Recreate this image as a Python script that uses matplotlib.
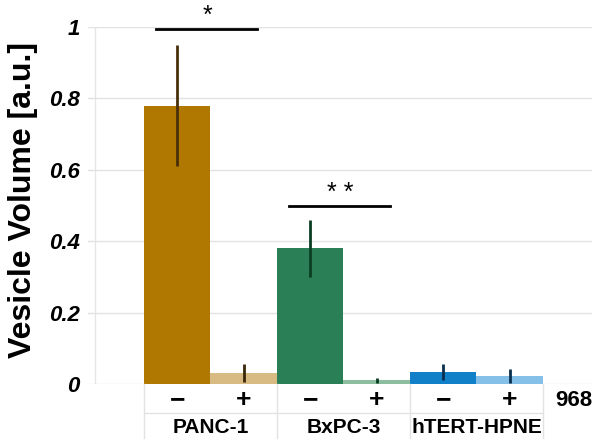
import matplotlib.pyplot as plt

# data
cell_lines = ["PANC-1", "BxPC-3", "hTERT-HPNE"]
treatment = ["\u2212", "+", "\u2212", "+", "\u2212", "+"]
volume = [0.78, 0.03, 0.38, 0.01, 0.033, 0.022]
volume_err = [0.17, 0.025, 0.08, 0.008, 0.022, 0.02]
bar_colors = ["#B07800", "#D8BB82", "#2A7F56", "#8DBEA0", "#1180C9", "#84C0E8"]
err_colors = ["#4A300A", "#3A2608", "#0B3D22", "#0B3D22", "#0A2F4F", "#0A2F4F"]
sig_pairs = [(0, 1, 0.995, "*"), (2, 3, 0.50, "* *")]
extra_label = "968"

plt.rcParams['font.family'] = ['Liberation Sans', 'DejaVu Sans']

fig = plt.figure(figsize=(6, 4.48), dpi=100)
ax = fig.add_axes([88 / 600, 64 / 448, 504 / 600, 357 / 448])

x = list(range(len(volume)))
ax.bar(x, volume, width=1.0, color=bar_colors, zorder=2)
for xi, v, e, c in zip(x, volume, volume_err, err_colors):
    ax.errorbar(xi, v, yerr=e, fmt='none', ecolor=c, elinewidth=2, capsize=0, zorder=3)

ax.set_xlim(-1.342, 6.237)
ax.set_ylim(0, 1)
ax.set_yticks([0, 0.2, 0.4, 0.6, 0.8, 1.0])
ax.set_yticklabels(["0", "0.2", "0.4", "0.6", "0.8", "1"],
                   fontsize=16, fontweight='bold', fontstyle='italic')
ax.tick_params(axis='y', length=0, pad=6)
ax.set_xticks([])
ax.grid(axis='y', color='#e2e2e2', linewidth=1, zorder=0)
for s in ax.spines.values():
    s.set_visible(False)
ax.axvline(-1.237, color='#e6e6e6', linewidth=1, zorder=1)
ax.set_ylabel("Vesicle Volume [a.u.]", fontsize=23, fontweight='bold')
ax.yaxis.set_label_coords(-0.10, 0.515)

# significance bars
for a, b, h, label in sig_pairs:
    ax.plot([a - 0.32, b + 0.2], [h, h], color='black', linewidth=2, clip_on=False)
    ax.text((a + b) / 2 - 0.05, h + 0.002, label, ha='center', va='bottom',
            fontsize=18, clip_on=False)

# table below the axis
row1, row2 = -0.045, -0.123
ax.plot([-0.5, 5.5], [-0.081, -0.081], color='#e2e2e2', linewidth=1, clip_on=False)
for xv in [-0.5, 1.5, 3.5, 5.5]:
    ax.plot([xv, xv], [0, -0.152], color='#e2e2e2', linewidth=1, clip_on=False)
for xi, t in zip(x, treatment):
    ax.text(xi, row1, t, ha='center', va='center', fontsize=19, fontweight='bold')
for i, name in enumerate(cell_lines):
    ax.text(2 * i + 0.5, row2, name, ha='center', va='center', fontsize=15, fontweight='bold')
ax.text(5.97, row1, extra_label, ha='center', va='center', fontsize=16, fontweight='bold')

fig.savefig("out.png", dpi=100)
